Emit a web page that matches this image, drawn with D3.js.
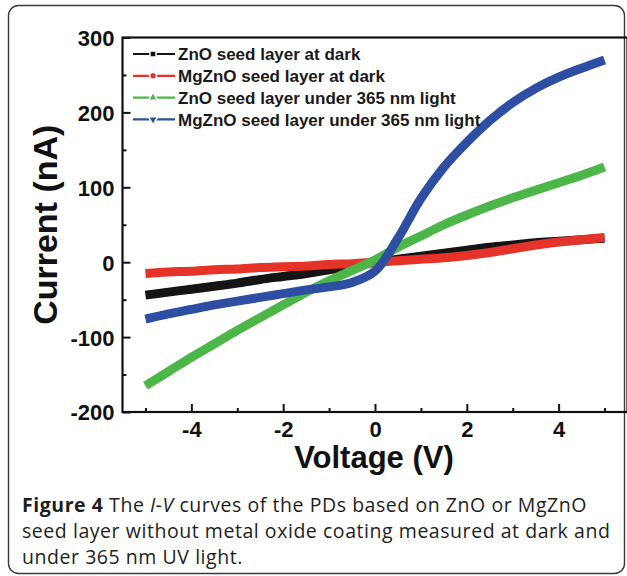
<!DOCTYPE html>
<html>
<head>
<meta charset="utf-8">
<script src="https://cdn.jsdelivr.net/npm/d3@7"></script>
<style>
  body { margin: 0; background: #fff; }
  svg { display: block; }
</style>
</head>
<body>
<script>
// I-V data (current in nA)
const voltage = [-5, -4.5, -4, -3.5, -3, -2.5, -2, -1.5, -1, -0.5, 0, 0.5, 1, 1.5, 2, 2.5, 3, 3.5, 4, 4.5, 5];
const znoDark = [-44, -40, -36, -32, -28, -23, -19, -15, -10, -5, 0, 4, 8, 12, 16, 20, 23, 26, 28, 30, 32];
const mgznoDark = [-15, -13, -12, -10, -9, -7, -6, -5, -3, -2, 0, 2, 4, 6, 9, 13, 18, 23, 27, 30, 33];
const znoLight = [-165, -146, -127, -109, -91, -74, -57, -40, -25, -11, 3, 20, 35, 50, 63, 75, 86, 96, 106, 116, 127];
const mgznoLight = [-76, -69, -63, -57, -52, -47, -42, -37, -33, -27, -12, 32, 85, 127, 160, 189, 213, 232, 247, 259, 270];

const seriesNames = ["ZnO seed layer at dark", "MgZnO seed layer at dark", "ZnO seed layer under 365 nm light", "MgZnO seed layer under 365 nm light"];
const seriesColors = ["#141414", "#e5332a", "#4cb748", "#2d4ea3"];
const seriesMarkers = ["square", "circle", "triangle", "triangleDown"];
const xTicks = [-4, -2, 0, 2, 4];
const yTicks = [-200, -100, 0, 100, 200, 300];

const width = 627, height = 576;
const svg = d3.select("body").append("svg")
    .attr("width", width)
    .attr("height", height);

// outer figure box with rounded corners
svg.append("rect")
    .attr("x", 8.5).attr("y", 5.5)
    .attr("width", 616).attr("height", 568)
    .attr("rx", 10)
    .attr("fill", "none")
    .attr("stroke", "#3a3a3a")
    .attr("stroke-width", 1.4);

const plot = { left: 122.5, top: 37.5, right: 627.5, bottom: 412 };

const x = d3.scaleLinear().domain([-5.5, 5.5]).range([plot.left, plot.right]);
const y = d3.scaleLinear().domain([-200, 300]).range([plot.bottom, plot.top]);

const allSeries = [znoDark, mgznoDark, znoLight, mgznoLight];

const line = d3.line()
    .x(d => x(d[0]))
    .y(d => y(d[1]))
    .curve(d3.curveCatmullRom);

allSeries.forEach((vals, i) => {
    svg.append("path")
        .datum(voltage.map((v, j) => [v, vals[j]]))
        .attr("d", line)
        .attr("fill", "none")
        .attr("stroke", seriesColors[i])
        .attr("stroke-width", 9);
});

// frame
svg.append("rect")
    .attr("x", plot.left).attr("y", plot.top)
    .attr("width", plot.right - plot.left)
    .attr("height", plot.bottom - plot.top)
    .attr("fill", "none")
    .attr("stroke", "#111")
    .attr("stroke-width", 2.2);

// axes, ticks pointing inward
const xAxis = svg.append("g")
    .attr("transform", `translate(0,${plot.bottom})`)
    .call(d3.axisBottom(x).tickValues(d3.range(-5, 6, 1)).tickSizeOuter(0).tickFormat(""));
xAxis.selectAll(".tick line").attr("y2", d => d % 2 === 0 ? -8 : -4).attr("stroke", "#111").attr("stroke-width", 2);
xAxis.select(".domain").remove();
xAxis.selectAll(".tick")
    .filter(d => xTicks.includes(d))
    .append("text")
    .attr("y", 25)
    .attr("fill", "#111")
    .style("font-family", "'Liberation Sans', Arial, sans-serif")
    .style("font-weight", "bold")
    .style("font-size", "22px")
    .attr("text-anchor", "middle")
    .text(d => d);

const yAxis = svg.append("g")
    .attr("transform", `translate(${plot.left},0)`)
    .call(d3.axisLeft(y).tickValues(d3.range(-200, 301, 50)).tickSizeOuter(0).tickFormat(""));
yAxis.selectAll(".tick line").attr("x2", d => d % 100 === 0 ? 8 : 4).attr("stroke", "#111").attr("stroke-width", 2);
yAxis.select(".domain").remove();
yAxis.selectAll(".tick")
    .filter(d => yTicks.includes(d))
    .append("text")
    .attr("x", -8)
    .attr("dy", "0.36em")
    .attr("fill", "#111")
    .style("font-family", "'Liberation Sans', Arial, sans-serif")
    .style("font-weight", "bold")
    .style("font-size", "22px")
    .attr("text-anchor", "end")
    .text(d => d);

// axis titles
svg.append("text")
    .attr("x", (plot.left + 627.5) / 2 - 1)
    .attr("y", 468)
    .attr("text-anchor", "middle")
    .style("font-family", "'Liberation Sans', Arial, sans-serif")
    .style("font-weight", "bold")
    .style("font-size", "31px")
    .attr("fill", "#111")
    .text("Voltage (V)");

svg.append("text")
    .attr("transform", `translate(57,${(plot.top + plot.bottom) / 2}) rotate(-90)`)
    .attr("text-anchor", "middle")
    .style("font-family", "'Liberation Sans', Arial, sans-serif")
    .style("font-weight", "bold")
    .style("font-size", "34px")
    .attr("fill", "#111")
    .text("Current (nA)");

// legend
const legend = svg.append("g").attr("transform", "translate(133,54)");
const symbol = d3.symbol().size(38);
const shapes = {
    square: d3.symbolSquare,
    circle: d3.symbolCircle,
    triangle: d3.symbolTriangle,
    triangleDown: d3.symbolTriangle
};
seriesNames.forEach((name, i) => {
    const row = legend.append("g").attr("transform", `translate(0,${i * 21.8})`);
    row.append("line")
        .attr("x1", 0).attr("x2", 42)
        .attr("stroke", seriesColors[i])
        .attr("stroke-width", 2.2);
    row.append("path")
        .attr("d", symbol.type(shapes[seriesMarkers[i]])())
        .attr("transform", `translate(20,0)${seriesMarkers[i] === "triangleDown" ? " rotate(180)" : ""}`)
        .attr("fill", seriesColors[i])
        .attr("stroke", "#fff")
        .attr("stroke-width", 1.5);
    row.append("text")
        .attr("x", 45)
        .attr("dy", "0.36em")
        .style("font-family", "'Liberation Sans', Arial, sans-serif")
        .style("font-weight", "bold")
        .style("font-size", "17px")
        .attr("fill", "#1a1a1a")
        .text(name);
});

// caption
const caption = svg.append("text")
    .attr("x", 22)
    .style("font-family", "'Open Sans', 'Noto Sans', sans-serif")
    .style("font-size", "19.5px")
    .style("letter-spacing", "0.55px")
    .attr("fill", "#1e1e1e");
const line1 = caption.append("tspan").attr("x", 22).attr("y", 512);
line1.append("tspan").style("font-weight", "bold").text("Figure 4");
line1.append("tspan").text(" The ");
line1.append("tspan").style("font-style", "italic").text("I-V");
line1.append("tspan").text(" curves of the PDs based on ZnO or MgZnO");
caption.append("tspan").attr("x", 22).attr("y", 538)
    .text("seed layer without metal oxide coating measured at dark and");
caption.append("tspan").attr("x", 22).attr("y", 564)
    .text("under 365 nm UV light.");
</script>
</body>
</html>
